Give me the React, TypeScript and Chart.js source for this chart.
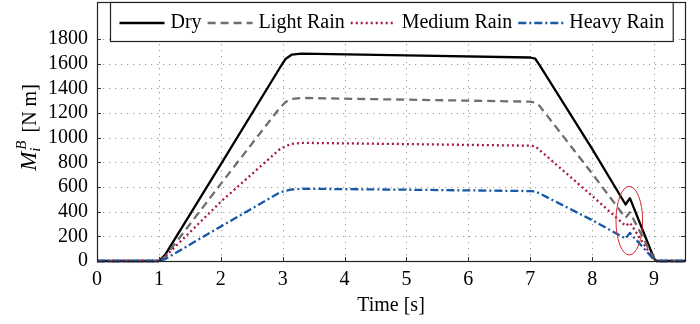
import React, { useEffect, useRef } from "react";
import { Chart, registerables } from "chart.js";

Chart.register(...registerables);

// ---- data ----
const TIME = [0, 1.0, 1.1, 2.0, 2.95, 3.05, 3.15, 3.3, 5.0, 7.0, 7.08, 7.15, 8.0, 8.54, 8.61, 9.0, 9.04, 9.5];
const DRY = [0, 0, 50, 784, 1563, 1640, 1674, 1682, 1668, 1650, 1640, 1588, 910, 458, 510, 20, 0, 0];
const LIGHT = [0, 0, 35, 625, 1240, 1290, 1315, 1322, 1308, 1292, 1285, 1258, 709, 350, 395, 15, 0, 0];
const MEDIUM = [0, 0, 35, 480, 905, 932, 950, 958, 948, 935, 930, 900, 528, 285, 310, 10, 0, 0];
const HEAVY = [0, 0, 15, 280, 555, 570, 580, 586, 578, 567, 563, 548, 331, 182, 228, 10, 0, 0];
const SERIES_LABELS = ["Dry", "Light Rain", "Medium Rain", "Heavy Rain"];
const X_TICKS = [0, 1, 2, 3, 4, 5, 6, 7, 8, 9];
const Y_TICKS = [0, 200, 400, 600, 800, 1000, 1200, 1400, 1600, 1800];
const X_TITLE = "Time [s]";
const Y_TITLE_MAIN = "M";
const Y_TITLE_SUB = "i";
const Y_TITLE_SUP = "B";
const Y_TITLE_UNIT = "[N m]";
const ELLIPSE_CENTER = [8.6, 327];
const ELLIPSE_RADII = [0.215, 278];

const FONT = '"Liberation Serif", "Times New Roman", serif';

const STYLES = [
  { color: "#000000", dash: [] as number[], width: 2.3 },
  { color: "#6e6e6e", dash: [8, 5], width: 2.3 },
  { color: "#a8173f", dash: [2, 3], width: 2.3 },
  { color: "#1659a8", dash: [8, 3, 2, 3], width: 2.3 },
];

const decorPlugin = {
  id: "decor",
  beforeDatasetsDraw(chart: any) {
    const { ctx, chartArea, scales } = chart;
    const { left, right, top, bottom } = chartArea;
    ctx.save();
    ctx.strokeStyle = "#9a9a9a";
    ctx.lineWidth = 1;
    ctx.setLineDash([1.2, 4.8]);
    X_TICKS.forEach((v) => {
      const x = Math.round(scales.x.getPixelForValue(v)) + 0.5;
      if (x <= left + 1 || x >= right - 1) return;
      ctx.beginPath();
      ctx.moveTo(x, top);
      ctx.lineTo(x, bottom);
      ctx.stroke();
    });
    Y_TICKS.forEach((v) => {
      const y = Math.round(scales.y.getPixelForValue(v)) + 0.5;
      if (y <= top + 1 || y >= bottom - 1) return;
      ctx.beginPath();
      ctx.moveTo(left, y);
      ctx.lineTo(right, y);
      ctx.stroke();
    });
    ctx.restore();
  },
  afterDatasetsDraw(chart: any) {
    const { ctx, scales } = chart;
    const cx = scales.x.getPixelForValue(ELLIPSE_CENTER[0]);
    const cy = scales.y.getPixelForValue(ELLIPSE_CENTER[1]);
    const rx = Math.abs(scales.x.getPixelForValue(ELLIPSE_CENTER[0] + ELLIPSE_RADII[0]) - cx);
    const ry = Math.abs(scales.y.getPixelForValue(ELLIPSE_CENTER[1] + ELLIPSE_RADII[1]) - cy);
    ctx.save();
    ctx.strokeStyle = "#d8262c";
    ctx.lineWidth = 1;
    ctx.beginPath();
    ctx.ellipse(cx, cy, rx, ry, 0, 0, Math.PI * 2);
    ctx.stroke();
    ctx.restore();
  },
  afterDraw(chart: any) {
    const { ctx, chartArea, scales } = chart;
    const { left, right, top, bottom } = chartArea;
    ctx.save();
    // inward ticks
    ctx.strokeStyle = "#333";
    ctx.lineWidth = 1;
    const tl = 4;
    X_TICKS.forEach((v) => {
      const x = Math.round(scales.x.getPixelForValue(v)) + 0.5;
      ctx.beginPath();
      ctx.moveTo(x, bottom);
      ctx.lineTo(x, bottom - tl);
      ctx.moveTo(x, top);
      ctx.lineTo(x, top + tl);
      ctx.stroke();
    });
    Y_TICKS.forEach((v) => {
      const y = Math.round(scales.y.getPixelForValue(v)) + 0.5;
      ctx.beginPath();
      ctx.moveTo(left, y);
      ctx.lineTo(left + tl, y);
      ctx.moveTo(right, y);
      ctx.lineTo(right - tl, y);
      ctx.stroke();
    });
    // frame
    ctx.strokeStyle = "#222";
    ctx.lineWidth = 1.2;
    ctx.strokeRect(Math.round(left) + 0.5, Math.round(top) + 0.5, Math.round(right - left), Math.round(bottom - top));

    // legend
    ctx.font = `20px ${FONT}`;
    ctx.textBaseline = "middle";
    const lineLen = 45;
    const gapLT = 6;
    const gapItem = 6;
    const widths = SERIES_LABELS.map((s) => ctx.measureText(s).width);
    const content = widths.reduce((a, w) => a + lineLen + gapLT + w, 0) + gapItem * (SERIES_LABELS.length - 1);
    const padX = 9;
    const boxW = content + padX * 2;
    const boxX = Math.round((left + right) / 2 - boxW / 2) + 0.5;
    const boxY = Math.round(top) + 0.5;
    const boxH = 39;
    ctx.fillStyle = "#fff";
    ctx.fillRect(boxX, boxY, boxW, boxH);
    ctx.strokeStyle = "#222";
    ctx.lineWidth = 1.2;
    ctx.strokeRect(boxX, boxY, boxW, boxH);
    let x = boxX + padX;
    const ly = boxY + boxH / 2 + 1;
    SERIES_LABELS.forEach((label, i) => {
      const st = STYLES[i];
      ctx.strokeStyle = st.color;
      ctx.lineWidth = st.width;
      ctx.setLineDash(st.dash);
      ctx.beginPath();
      ctx.moveTo(x, ly);
      ctx.lineTo(x + lineLen, ly);
      ctx.stroke();
      ctx.setLineDash([]);
      x += lineLen + gapLT;
      ctx.fillStyle = "#000";
      ctx.textAlign = "left";
      ctx.fillText(label, x, ly);
      x += widths[i] + gapItem;
    });

    // x title
    ctx.textAlign = "center";
    ctx.textBaseline = "middle";
    ctx.fillStyle = "#000";
    ctx.font = `20px ${FONT}`;
    ctx.fillText(X_TITLE, (left + right) / 2, 306);

    // y title (rotated)
    ctx.translate(29, (top + bottom) / 2 - 4);
    ctx.rotate(-Math.PI / 2);
    ctx.textAlign = "left";
    ctx.textBaseline = "alphabetic";
    const mainF = `italic 23px ${FONT}`;
    const smallF = `italic 15px ${FONT}`;
    const unitF = `20px ${FONT}`;
    ctx.font = mainF;
    const wM = ctx.measureText(Y_TITLE_MAIN).width;
    ctx.font = smallF;
    const wS = Math.max(ctx.measureText(Y_TITLE_SUB).width, ctx.measureText(Y_TITLE_SUP).width);
    ctx.font = unitF;
    const wU = ctx.measureText(Y_TITLE_UNIT).width;
    const gap = 8;
    const total = wM + 2 + wS + gap + wU;
    let tx = -total / 2;
    const base = 7;
    ctx.font = mainF;
    ctx.fillText(Y_TITLE_MAIN, tx, base);
    tx += wM + 2;
    ctx.font = smallF;
    ctx.fillText(Y_TITLE_SUP, tx, base - 10);
    ctx.fillText(Y_TITLE_SUB, tx - 2, base + 4);
    tx += wS + gap;
    ctx.font = unitF;
    ctx.fillText(Y_TITLE_UNIT, tx, base);
    ctx.restore();
  },
};

export default function App() {
  const ref = useRef<HTMLCanvasElement>(null);
  useEffect(() => {
    if (!ref.current) return;
    const series = [DRY, LIGHT, MEDIUM, HEAVY];
    const chart = new Chart(ref.current, {
      type: "line",
      data: {
        datasets: series.map((vals, i) => ({
          label: SERIES_LABELS[i],
          data: vals.map((v, j) => ({ x: TIME[j], y: v })),
          borderColor: STYLES[i].color,
          borderWidth: STYLES[i].width,
          borderDash: STYLES[i].dash,
          pointRadius: 0,
          fill: false,
          tension: 0,
          clip: 4,
          order: 3 - i,
          borderJoinStyle: "round" as const,
        })),
      },
      options: {
        responsive: false,
        animation: false,
        devicePixelRatio: 1,
        layout: { padding: { top: 2, right: 15, left: 0, bottom: 0 } },
        plugins: { legend: { display: false }, tooltip: { enabled: false } },
        scales: {
          x: {
            type: "linear",
            min: 0,
            max: 9.5,
            afterBuildTicks: (s: any) => {
              s.ticks = X_TICKS.map((v) => ({ value: v }));
            },
            afterFit: (s: any) => {
              s.height = 63;
              s.paddingLeft = 0;
              s.paddingRight = 0;
            },
            grid: { display: false, drawTicks: false },
            border: { display: false },
            ticks: {
              color: "#000",
              font: { family: FONT, size: 20 },
              padding: 7,
              maxRotation: 0,
              autoSkip: false,
              callback: (v: any) => String(v),
            },
          },
          y: {
            type: "linear",
            min: 0,
            max: 2100,
            afterBuildTicks: (s: any) => {
              s.ticks = Y_TICKS.map((v) => ({ value: v }));
            },
            afterFit: (s: any) => {
              s.width = 97;
              s.paddingTop = 0;
              s.paddingBottom = 0;
            },
            grid: { display: false, drawTicks: false },
            border: { display: false },
            ticks: {
              color: "#000",
              font: { family: FONT, size: 20 },
              padding: 9,
              autoSkip: false,
              callback: (v: any) => String(v),
            },
          },
        },
      },
      plugins: [decorPlugin],
    });
    return () => chart.destroy();
  }, []);
  return (
    <div style={{ position: "absolute", left: 0, top: 0, width: 700, height: 324, background: "#fff" }}>
      <canvas ref={ref} width={700} height={324} style={{ display: "block" }} />
    </div>
  );
}
